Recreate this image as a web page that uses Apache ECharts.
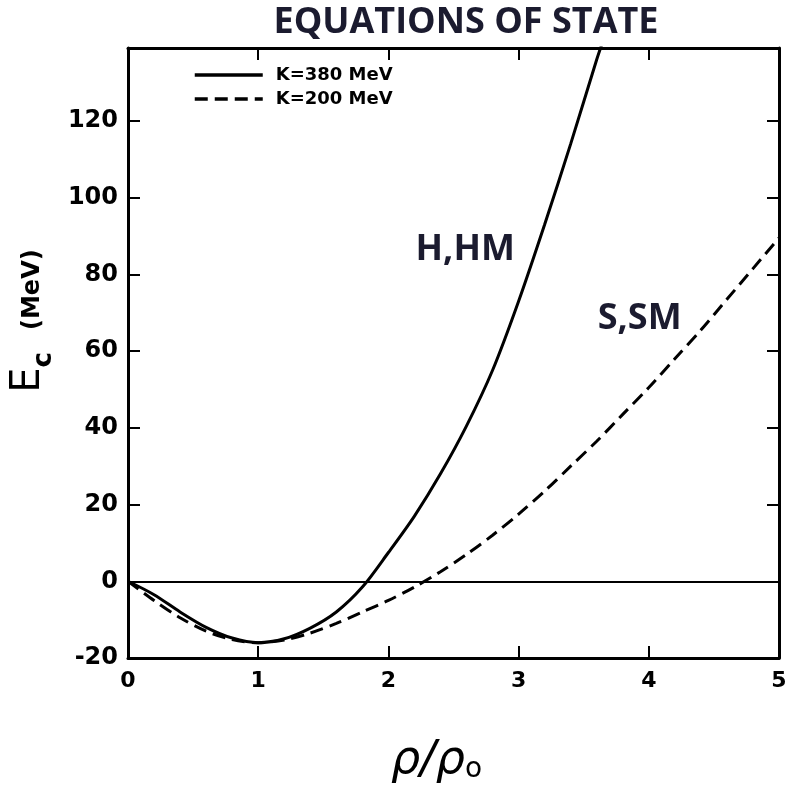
<!DOCTYPE html>
<html>
<head>
<meta charset="utf-8">
<script src="https://cdn.jsdelivr.net/npm/echarts@6/dist/echarts.min.js"></script>
<style>
html,body{margin:0;padding:0;background:#fff;}
#chart{width:796px;height:789px;}
</style>
</head>
<body>
<div id="chart"></div>
<script>
// ---- data ----
const titleText = 'EQUATIONS OF STATE';
const seriesNames = ['K=380 MeV', 'K=200 MeV'];
const annotations = ['H,HM', 'S,SM'];

const rhoK380 = [0, 0.2, 0.4, 0.6, 0.8, 1.0, 1.2, 1.4, 1.6, 1.8, 2.0, 2.2, 2.4, 2.6, 2.8, 3.0, 3.2, 3.4, 3.6, 3.65];
const eK380   = [0, -3.5, -8, -12, -14.8, -16, -15, -12.2, -8, -1.5, 7.5, 17, 28, 40.5, 55, 73, 93, 114, 136, 141];

const rhoK200 = [0, 0.2, 0.4, 0.6, 0.8, 1.0, 1.2, 1.4, 1.6, 1.8, 2.0, 2.2, 2.4, 2.6, 2.8, 3.0, 3.2, 3.4, 3.6, 3.8, 4.0, 4.2, 4.4, 4.6, 4.8, 5.0];
const eK200   = [0, -5, -9.5, -13, -15.2, -16, -15.3, -13.5, -11, -8, -5, -1.5, 2.5, 7, 12, 17.5, 23.5, 30, 36.5, 43.5, 50.5, 58, 65.5, 73.5, 81.5, 89.5];

const xRange = [0, 5];
const yRange = [-20, 139];

// annotation anchor points (data coordinates)
const annotationPos = [[2.59, 86.5], [3.93, 68.3]];

const pairs = (xs, ys) => xs.map((x, i) => [x, ys[i]]);

const chart = echarts.init(document.getElementById('chart'), null, {renderer: 'canvas'});

const axisLineStyle = {color: '#000', width: 3};
const tickStyle = {show: true, inside: true, length: 12, lineStyle: {color: '#000', width: 2}};

const option = {
  backgroundColor: '#fff',
  animation: false,
  title: {
    text: titleText,
    left: 461,
    top: 0,
    textAlign: 'center',
    textStyle: {fontFamily: 'Open Sans', fontWeight: 'bold', fontSize: 36, color: '#1b1b2f'}
  },
  legend: {
    orient: 'vertical',
    left: 188,
    top: 61,
    itemWidth: 68,
    itemHeight: 20,
    itemGap: 6,
    data: seriesNames,
    itemStyle: {opacity: 0},
    lineStyle: {width: 3.5},
    textStyle: {fontFamily: 'DejaVu Sans', fontWeight: 'bold', fontSize: 18, color: '#000', padding: [0, 0, 0, 8]}
  },
  grid: {left: 128, right: 17, top: 48, bottom: 130, containLabel: false},
  xAxis: [
    {
      type: 'value', min: xRange[0], max: xRange[1], interval: 1,
      position: 'bottom',
      axisLine: {show: true, onZero: false, lineStyle: axisLineStyle},
      axisTick: tickStyle,
      splitLine: {show: false},
      axisLabel: {margin: 12, fontFamily: 'DejaVu Sans', fontWeight: 'bold', fontSize: 22, color: '#000'},
      name: '{r|ρ/ρ}{o|o}',
      nameLocation: 'middle',
      nameGap: 80,
      nameTextStyle: {
        padding: [0, 34, 0, 0],
        rich: {
          r: {fontFamily: 'DejaVu Sans', fontStyle: 'italic', fontSize: 46, color: '#000', verticalAlign: 'top'},
          o: {fontFamily: 'DejaVu Sans', fontSize: 28, color: '#000', verticalAlign: 'bottom', padding: [18, 0, 0, 0]}
        }
      }
    },
    {
      type: 'value', min: xRange[0], max: xRange[1], interval: 1,
      position: 'top',
      axisLine: {show: true, onZero: false, lineStyle: axisLineStyle},
      axisTick: tickStyle,
      axisLabel: {show: false},
      splitLine: {show: false}
    }
  ],
  yAxis: [
    {
      type: 'value', min: yRange[0], max: yRange[1], interval: 20,
      position: 'left',
      axisLine: {show: true, onZero: false, lineStyle: axisLineStyle},
      axisTick: tickStyle,
      splitLine: {show: false},
      axisLabel: {margin: 10, showMaxLabel: false, fontFamily: 'DejaVu Sans', fontWeight: 'bold', fontSize: 24, color: '#000'},
      name: '{e|E}{c|c}{m|(MeV)}',
      nameLocation: 'middle',
      nameRotate: 90,
      nameGap: 53,
      nameTextStyle: {
        padding: [0, 0, 0, 64],
        rich: {
          e: {fontFamily: 'DejaVu Sans', fontSize: 40, color: '#000', verticalAlign: 'bottom'},
          c: {fontFamily: 'DejaVu Sans', fontWeight: 'bold', fontSize: 26, color: '#000', verticalAlign: 'bottom', padding: [0, 22, -8, 0]},
          m: {fontFamily: 'DejaVu Sans', fontWeight: 'bold', fontSize: 24, color: '#000', verticalAlign: 'bottom', padding: [0, 0, 4, 0]}
        }
      }
    },
    {
      type: 'value', min: yRange[0], max: yRange[1], interval: 20,
      position: 'right',
      axisLine: {show: true, onZero: false, lineStyle: axisLineStyle},
      axisTick: tickStyle,
      axisLabel: {show: false},
      splitLine: {show: false}
    }
  ],
  series: [
    {
      name: seriesNames[0],
      type: 'line',
      xAxisIndex: 0, yAxisIndex: 0,
      data: pairs(rhoK380, eK380),
      smooth: 0.3,
      symbol: 'none',
      clip: true,
      lineStyle: {color: '#000', width: 3, type: 'solid'},
      itemStyle: {color: '#000'},
      markLine: {
        silent: true,
        symbol: 'none',
        label: {show: false},
        lineStyle: {color: '#000', width: 2, type: 'solid'},
        data: [{yAxis: 0}]
      }
    },
    {
      name: seriesNames[1],
      type: 'line',
      xAxisIndex: 0, yAxisIndex: 0,
      data: pairs(rhoK200, eK200),
      smooth: 0.3,
      symbol: 'none',
      clip: true,
      lineStyle: {color: '#000', width: 3, type: [13, 7]},
      itemStyle: {color: '#000'}
    },
    {
      name: 'annotations',
      type: 'scatter',
      xAxisIndex: 0, yAxisIndex: 0,
      symbolSize: 0,
      silent: true,
      itemStyle: {opacity: 1},
      data: annotationPos.map((p, i) => ({value: p, name: annotations[i]})),
      label: {
        show: true,
        position: 'inside',
        opacity: 1,
        formatter: (p) => p.name,
        fontFamily: 'Open Sans',
        fontWeight: 'bold',
        fontSize: 36,
        color: '#1b1b2f'
      }
    }
  ]
};

chart.setOption(option);
</script>
</body>
</html>
